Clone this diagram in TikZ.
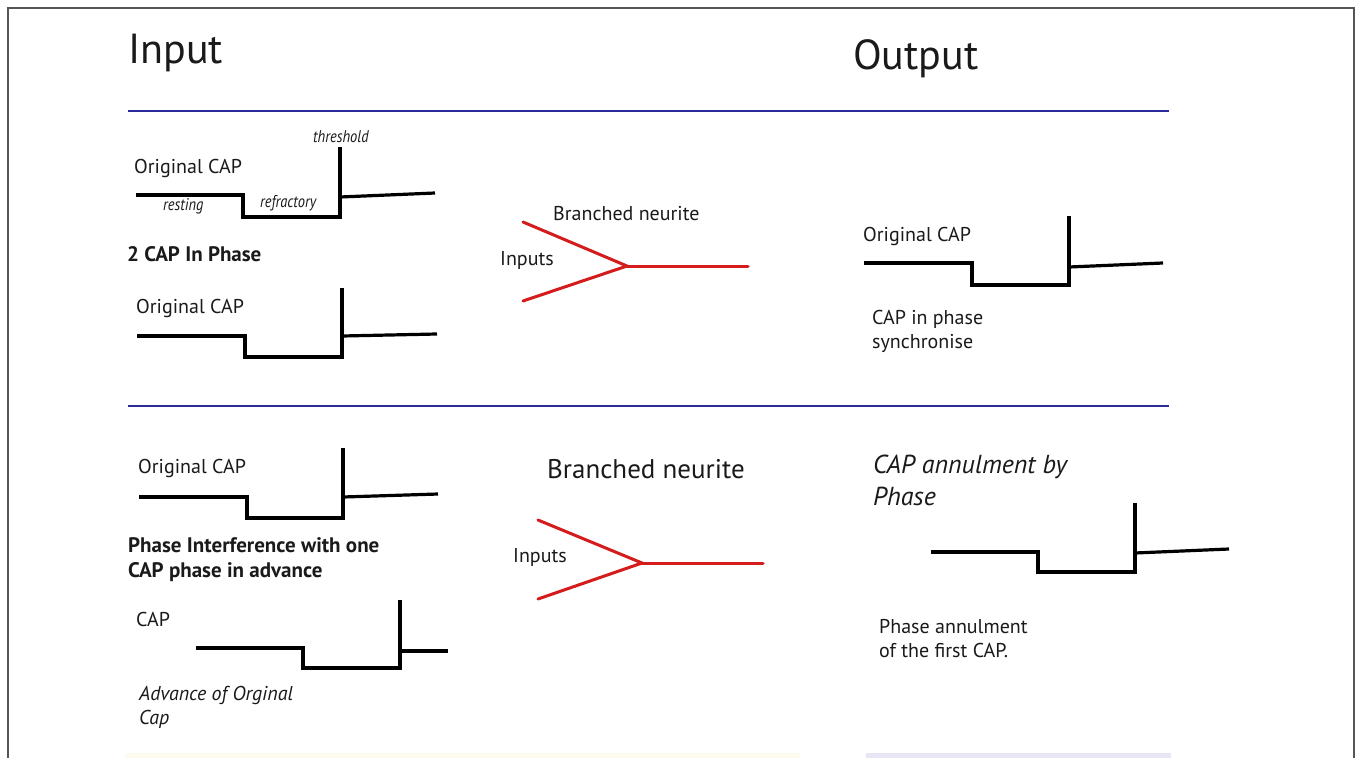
\documentclass[tikz,border=0pt]{standalone}
\usepackage{fontspec}
\setmainfont{PT Sans}
\definecolor{sepblue}{HTML}{2B2B9E}
\definecolor{neured}{HTML}{D41C1C}
\definecolor{framegray}{HTML}{555555}
\definecolor{txt}{HTML}{1A1A1A}
\definecolor{stripY}{HTML}{FDFBF0}
\definecolor{stripL}{HTML}{E8E6F4}
\begin{document}
\begin{tikzpicture}[x=1pt,y=-1pt,
  lbl/.style={anchor=base west, inner sep=0pt, text=txt, font=\fontsize{20}{24}\selectfont},
  bold/.style={lbl, font=\fontsize{21}{24}\selectfont\bfseries},
  ital/.style={lbl, font=\fontsize{20}{24}\selectfont\itshape},
  bigital/.style={lbl, font=\fontsize{26}{30}\selectfont\itshape},
  smallital/.style={lbl, font=\fontsize{17}{20}\selectfont\itshape},
  title/.style={lbl, font=\fontsize{42}{48}\selectfont},
  wave/.style={draw=black, line width=3.2pt, line join=miter},
  sepline/.style={draw=sepblue, line width=1.8pt},
  neur/.style={draw=neured, line width=3pt, line cap=round},
  frameline/.style={draw=framegray, line width=1.4pt}]
\useasboundingbox (0,0) rectangle (1358,758);
\fill[white] (0,0) rectangle (1358,758);
% frame and faint bottom strips
\fill[stripY] (126,753) rectangle (800,758);
\fill[stripL] (866,753) rectangle (1171,758);
\draw[frameline] (8,758) -- (8,8) -- (1354,8) -- (1354,758);
% titles
\node[title] (tin) at (128,63) {Input};
\node[title] (tout) at (853,69) {Output};
% separators
\draw[sepline] (128,111) -- (1169,111);
\draw[sepline] (128,406) -- (1169,406);

% ---------- top left ----------
\node[smallital] (thr) at (313,142) {\scalebox{0.85}[1]{threshold}};
\node[lbl] (oc1) at (134,173) {Original CAP};
\draw[wave] (136,195) -- (243,195) -- (243,217) -- (340,217) -- (340,147);
\draw[wave] (340,197) -- (435,193);
\node[smallital] (rest) at (163,210) {\scalebox{0.85}[1]{resting}};
\node[smallital] (refr) at (260,207) {\scalebox{0.85}[1]{refractory}};
\node[bold] (inph) at (127,261) {2 CAP In Phase};
\node[lbl] (oc2) at (136,313) {Original CAP};
\draw[wave] (137,336) -- (245,336) -- (245,357) -- (342,357) -- (342,288);
\draw[wave] (342,336) -- (437,334);

% ---------- top middle ----------
\node[lbl] (bn1) at (553,220) {Branched neurite};
\node[lbl] (in1) at (500,265) {Inputs};
\coordinate (a1) at (523,222);
\coordinate (b1) at (523,301);
\coordinate (j1) at (627,266);
\coordinate (o1) at (748,266);
\draw[neur] (a1) -- (j1) -- (b1);
\draw[neur] (j1) -- (o1);

% ---------- top right ----------
\node[lbl] (oc3) at (863,241) {Original CAP};
\draw[wave] (864,263) -- (972,263) -- (972,285) -- (1069,285) -- (1069,216);
\draw[wave] (1069,267) -- (1163,263);
\node[lbl] (sync1) at (872,324) {CAP in phase};
\node[lbl] (sync2) at (872,348) {synchronise};

% ---------- bottom left ----------
\node[lbl] (oc4) at (138,473) {Original CAP};
\draw[wave] (139,497) -- (247,497) -- (247,518) -- (343,518) -- (343,448);
\draw[wave] (343,497) -- (438,494);
\node[bold] (pi1) at (128,552) {Phase Interference with one};
\node[bold] (pi2) at (128,577) {CAP phase in advance};
\node[lbl] (cap) at (136,626) {CAP};
\draw[wave] (196,648) -- (303,648) -- (303,668) -- (400,668) -- (400,600);
\draw[wave] (400,651) -- (448,651);
\node[ital] (adv1) at (139,700) {Advance of Orginal};
\node[ital] (adv2) at (139,724) {Cap};

% ---------- bottom middle ----------
\node[lbl, font=\fontsize{27}{32}\selectfont] (bn2) at (547,478) {Branched neurite};
\node[lbl] (in2) at (513,562) {Inputs};
\coordinate (a2) at (538,520);
\coordinate (b2) at (538,599);
\coordinate (j2) at (642,563);
\coordinate (o2) at (763,563);
\draw[neur] (a2) -- (j2) -- (b2);
\draw[neur] (j2) -- (o2);

% ---------- bottom right ----------
\node[bigital] (ann1) at (873,473) {CAP annulment by};
\node[bigital] (ann2) at (873,505) {Phase};
\draw[wave] (931,552) -- (1038,552) -- (1038,572) -- (1135,572) -- (1135,503);
\draw[wave] (1135,553) -- (1229,549);
\node[lbl] (pa1) at (879,633) {Phase annulment};
\node[lbl] (pa2) at (879,657) {of the first CAP.};
\end{tikzpicture}
\end{document}
